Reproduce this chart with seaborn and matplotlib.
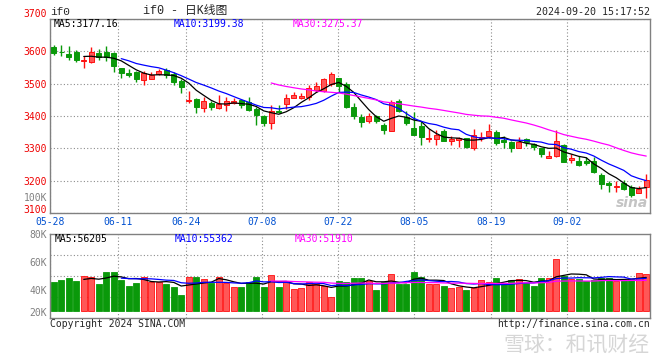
import numpy as np
import pandas as pd
import matplotlib
matplotlib.use('Agg')
import matplotlib.pyplot as plt
import seaborn as sns

# Daily K data, 80 sessions from 05-28 to 09-20
opens = [3612, 3599, 3592, 3598, 3569, 3568, 3594, 3598, 3594, 3548,
         3532, 3536, 3510, 3513, 3531, 3543, 3531, 3507, 3446, 3454,
         3424, 3440, 3424, 3433, 3439, 3450, 3444, 3423, 3399, 3379,
         3416, 3437, 3455, 3455, 3458, 3481, 3477, 3499, 3516, 3499,
         3428, 3396, 3386, 3399, 3372, 3354, 3445, 3398, 3364, 3369,
         3329, 3330, 3355, 3324, 3327, 3331, 3300, 3332, 3339, 3352,
         3325, 3319, 3301, 3329, 3314, 3300, 3269, 3275, 3311, 3263,
         3262, 3260, 3262, 3216, 3192, 3181, 3193, 3180, 3163, 3179]
highs = [3620, 3620, 3615, 3605, 3587, 3612, 3608, 3618, 3597, 3550,
         3544, 3538, 3540, 3536, 3546, 3548, 3536, 3514, 3478, 3457,
         3460, 3447, 3465, 3460, 3457, 3453, 3460, 3427, 3402, 3433,
         3433, 3467, 3473, 3472, 3495, 3506, 3516, 3537, 3518, 3504,
         3440, 3405, 3410, 3402, 3377, 3450, 3454, 3414, 3412, 3384,
         3359, 3356, 3359, 3339, 3335, 3333, 3359, 3351, 3375, 3356,
         3337, 3323, 3335, 3333, 3318, 3302, 3292, 3358, 3313, 3283,
         3277, 3272, 3273, 3224, 3199, 3199, 3202, 3186, 3185, 3222]
lows = [3588, 3587, 3573, 3568, 3549, 3565, 3573, 3569, 3537, 3516,
        3521, 3506, 3497, 3513, 3526, 3518, 3497, 3472, 3440, 3409,
        3413, 3418, 3422, 3414, 3437, 3426, 3416, 3371, 3369, 3359,
        3409, 3422, 3455, 3453, 3450, 3475, 3473, 3493, 3473, 3426,
        3390, 3367, 3377, 3379, 3344, 3353, 3413, 3372, 3341, 3311,
        3321, 3311, 3323, 3311, 3305, 3301, 3294, 3324, 3333, 3310,
        3300, 3290, 3300, 3306, 3295, 3272, 3269, 3273, 3259, 3255,
        3245, 3247, 3224, 3175, 3165, 3165, 3171, 3148, 3161, 3145]
closes = [3595, 3597, 3583, 3572, 3574, 3598, 3583, 3583, 3555, 3534,
          3528, 3514, 3532, 3526, 3538, 3526, 3504, 3490, 3451, 3427,
          3447, 3427, 3437, 3447, 3445, 3435, 3418, 3402, 3379, 3417,
          3411, 3457, 3464, 3461, 3488, 3493, 3515, 3530, 3493, 3427,
          3400, 3380, 3399, 3383, 3357, 3444, 3417, 3379, 3341, 3336,
          3332, 3342, 3324, 3328, 3331, 3303, 3341, 3335, 3355, 3318,
          3320, 3301, 3319, 3319, 3303, 3282, 3277, 3323, 3259, 3270,
          3247, 3256, 3227, 3190, 3187, 3185, 3175, 3156, 3175, 3202]
volumes = [45700, 47100, 48600, 46400, 50000, 49300, 44300, 52900, 52900, 47400,
           42900, 45000, 49300, 45700, 45700, 44300, 42100, 36400, 49300, 49300,
           47900, 45000, 49300, 45000, 42100, 42100, 45700, 49300, 42100, 50700,
           42100, 46400, 40700, 41400, 45700, 44300, 42900, 35000, 46400, 45700,
           48600, 48600, 46400, 40000, 45700, 51400, 44300, 44300, 52900, 49300,
           44300, 44300, 42900, 41400, 42100, 40000, 41400, 47100, 45700, 48600,
           45000, 47100, 47900, 45000, 42900, 48600, 48600, 62100, 50000, 47900,
           47900, 46400, 47100, 48600, 48600, 46400, 47100, 47900, 52100, 51400]

date_labels = ['05-28', '06-11', '06-24', '07-08', '07-22', '08-05', '08-19', '09-02']
price_ticks = [3100, 3200, 3300, 3400, 3500, 3600, 3700]
vol_ticks = [20000, 40000, 60000, 80000]
ma_price_text = ['MA5:3177.16', 'MA10:3199.38', 'MA30:3275.37']
ma_vol_text = ['MA5:56205', 'MA10:55362', 'MA30:51910']

# where the dotted date grid falls (in bar units)
date_pos = [-0.5, 8.6, 17.6, 27.75, 37.9, 48.0, 58.25, 68.4]
vol_base = 25000

df = pd.DataFrame({'open': opens, 'high': highs, 'low': lows,
                   'close': closes, 'volume': volumes})
df['i'] = np.arange(len(df))
df['up'] = df['close'] >= df['open']
for n in (5, 10, 30):
    df[f'ma{n}'] = df['close'].rolling(n).mean()
    df[f'vma{n}'] = df['volume'].rolling(n).mean()

sns.set_style('white')
plt.rcParams['font.family'] = ['DejaVu Sans Mono', 'Noto Sans CJK SC']

RED_FILL = '#ff5757'
RED_EDGE = '#ff1010'
GREEN = '#0a990a'
GRID = '#8c8c8c'
ma_colors = {5: 'black', 10: '#0000ff', 30: '#ff00ff'}

fig = plt.figure(figsize=(6.6, 3.6), dpi=100)
ax = fig.add_axes([50 / 660, 147 / 360, 600 / 660, 194 / 360])
axv = fig.add_axes([50 / 660, 42 / 360, 600 / 660, 84 / 360])

# --- candles
edge = np.where(df['up'], RED_EDGE, GREEN)
fill = np.where(df['up'], RED_FILL, GREEN)
ax.vlines(df['i'], df['low'], df['high'], colors=edge, lw=1, zorder=2)
body_low = np.minimum(df['open'], df['close'])
body_h = np.maximum((df['close'] - df['open']).abs(), 1.5)
ax.bar(df['i'], body_h, bottom=body_low, width=0.68, color=fill,
       edgecolor=edge, linewidth=0.7, zorder=3)
for n, c in ma_colors.items():
    sns.lineplot(x=df['i'], y=df[f'ma{n}'], ax=ax, color=c, lw=0.9, zorder=4)

# --- volume
axv.bar(df['i'], df['volume'] - vol_base, bottom=vol_base, width=0.74,
        color=np.where(df['up'], RED_FILL, GREEN), edgecolor=edge,
        linewidth=0.6, zorder=2)
for n, c in ma_colors.items():
    sns.lineplot(x=df['i'], y=df[f'vma{n}'], ax=axv, color=c, lw=0.9, zorder=4)

for a in (ax, axv):
    a.set_xlim(-0.5, len(df) - 0.5)
    a.set_xticks(date_pos)
    a.set_xlabel('')
    a.set_ylabel('')
    a.tick_params(length=0, labelsize=7, pad=2)
    a.grid(axis='x', color=GRID, ls=(0, (1, 2)), lw=0.8)
    for s in a.spines.values():
        s.set_color('#808080')
        s.set_linewidth(1)
        s.set_visible(True)

ax.set_ylim(3100, 3700)
ax.set_yticks(price_ticks)
ax.set_yticklabels([str(t) for t in price_ticks], color='#ee0000')
ax.set_xticklabels(date_labels, color='#0050d0')
ax.tick_params(axis='x', pad=3)
ax.grid(axis='y', color=GRID, ls=(0, (1, 2)), lw=0.8)
for lbl in ax.get_yticklabels():
    if lbl.get_text() == '3700':
        lbl.set_va('bottom')
    if lbl.get_text() == '3100':
        lbl.set_va('baseline')

axv.set_ylim(20000, 80000)
axv.set_yticks(vol_ticks)
axv.set_yticklabels([f'{t // 1000}K' for t in vol_ticks], color='#808080')
axv.set_xticklabels([])
for f in (0.25, 0.5, 0.75):
    axv.axhline(20000 + 60000 * f, color=GRID, ls=(0, (1, 2)), lw=0.8, zorder=1)
for lbl in axv.get_yticklabels():
    if lbl.get_text() == '20K':
        lbl.set_va('bottom')

# --- texts
def px(x, y):
    return x / 660, 1 - y / 360

fig.text(*px(50, 12), 'if0', fontsize=8, va='center', family='Liberation Mono')
fig.text(*px(185, 11), 'if0 - 日K线图', fontsize=8.5, ha='center', va='center',
         family=['Liberation Mono', 'Noto Sans CJK SC'])
fig.text(*px(650, 12), '2024-09-20 15:17:52', fontsize=7.2, ha='right', va='center')
for t, x, c in zip(ma_price_text, (54, 174, 293), ma_colors.values()):
    fig.text(*px(x, 24), t, fontsize=7, color=c, va='center')
for t, x, c in zip(ma_vol_text, (55, 175, 295), ma_colors.values()):
    fig.text(*px(x, 238.5), t, fontsize=7, color=c, va='center')
fig.text(*px(47, 198), '100K', fontsize=7, color='#808080', ha='right', va='center')
fig.text(*px(648, 203), 'sina', fontsize=10, color='#c4c4c4', ha='right',
         va='center', style='italic', weight='bold', family='DejaVu Sans')
fig.text(*px(50, 324), 'Copyright 2024 SINA.COM', fontsize=7, va='center')
fig.text(*px(650, 324), 'http://finance.sina.com.cn', fontsize=7, ha='right', va='center')
fig.text(*px(650, 345), '雪球：和讯财经', fontsize=15, color='#d6d6d6', ha='right',
         va='center', family='Noto Sans CJK SC')

fig.savefig('out.png', dpi=100)
plt.close(fig)
